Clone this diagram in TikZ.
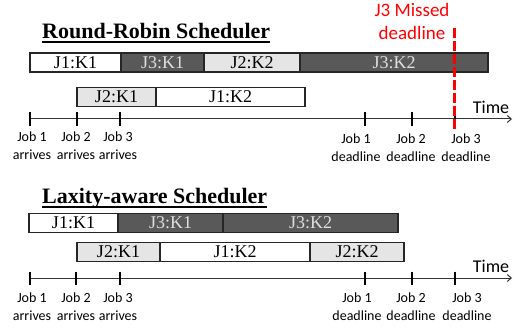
\documentclass[tikz,border=0pt]{standalone}
\usepackage{fontspec}
\setmainfont{Liberation Serif}
\newfontfamily\labelfont{Carlito}
\usetikzlibrary{arrows.meta}

\begin{document}
\begin{tikzpicture}[x=1pt, y=-1pt, >={Straight Barb[length=4pt,width=7pt]},
	slot/.style={draw=black!85, line width=1.2pt, minimum height=19pt, inner sep=0pt, outer sep=0pt, anchor=west, font=\fontsize{18}{18}\selectfont},
	lite/.style={slot, fill=gray!20},
	blank/.style={slot, fill=white},
	dark/.style={slot, fill=black!65, text=gray!25},
	axis/.style={->, black!80, line width=1pt},
	tick/.style={line width=1.6pt},
	evt/.style={font=\labelfont\fontsize{14}{18}\selectfont, align=center, anchor=north, inner sep=0pt},
	title/.style={font=\bfseries\fontsize{22}{24}\selectfont, anchor=base west, inner sep=0pt}]
	\useasboundingbox (0,0) rectangle (513,328);

	% Round-Robin
	\node[title] (rr-title) at (42,38.3) {Round-Robin Scheduler};
	\draw[line width=1.6pt] ([yshift=-3.8pt]rr-title.base west) -- ([yshift=-3.8pt]rr-title.base east);
	\node[blank, minimum width=91pt] (rr-a1) at (30,62.5) {J1:K1};
	\node[dark, minimum width=83pt] (rr-a2) at (rr-a1.east) {J3:K1};
	\node[lite, minimum width=96pt] (rr-a3) at (rr-a2.east) {J2:K2};
	\node[dark, minimum width=188pt] (rr-a4) at (rr-a3.east) {J3:K2};
	\node[lite, minimum width=79pt] (rr-b1) at (77,97) {J2:K1};
	\node[blank, minimum width=149pt] (rr-b2) at (rr-b1.east) {J1:K2};
	\coordinate (rr-t0) at (30,119);
	\coordinate (rr-t1) at (512,119);
	\draw[axis] (rr-t0) -- (rr-t1);
	\foreach \x in {30,77,120,365,412,455}
		\draw[tick] (\x,112.5) -- (\x,126);
	\node[evt, font=\labelfont\fontsize{18}{18}\selectfont, anchor=center] (rr-time) at (491,107) {Time};
	\foreach \x/\n in {32/1,76/2,118/3}
		\node[evt] (rr-arr\n) at (\x,132) {Job \n\\arrives};
	\foreach \x/\n in {356/1,411/2,466/3}
		\node[evt] (rr-dl\n) at (\x,134) {Job \n\\deadline};
	\coordinate (miss-top) at (454,28);
	\coordinate (miss-bot) at (454,132);
	\draw[red, line width=3pt, dash pattern=on 10pt off 3pt] (miss-top) -- (miss-bot);
	\node[red, font=\labelfont\fontsize{19}{23}\selectfont, align=center] (miss) at (412,21.5) {J3 Missed\\deadline};

	% Laxity-aware
	\node[title] (la-title) at (42,203.3) {Laxity-aware Scheduler};
	\draw[line width=1.6pt] ([yshift=-3.8pt]la-title.base west) -- ([yshift=-3.8pt]la-title.base east);
	\node[blank, minimum width=89pt] (la-a1) at (29,223) {J1:K1};
	\node[dark, minimum width=105pt] (la-a2) at (la-a1.east) {J3:K1};
	\node[dark, minimum width=175pt] (la-a3) at (la-a2.east) {J3:K2};
	\node[lite, minimum width=83pt] (la-b1) at (77,252) {J2:K1};
	\node[blank, minimum width=150pt] (la-b2) at (la-b1.east) {J1:K2};
	\node[lite, minimum width=94pt] (la-b3) at (la-b2.east) {J2:K2};
	\coordinate (la-t0) at (30,278);
	\coordinate (la-t1) at (512,278);
	\draw[axis] (la-t0) -- (la-t1);
	\foreach \x in {30,76,120,365,412,455}
		\draw[tick] (\x,271.5) -- (\x,285);
	\node[evt, font=\labelfont\fontsize{18}{18}\selectfont, anchor=center] (la-time) at (491,266.7) {Time};
	\foreach \x/\n in {32/1,76/2,118/3}
		\node[evt] (la-arr\n) at (\x,293) {Job \n\\arrives};
	\foreach \x/\n in {357/1,411/2,467/3}
		\node[evt] (la-dl\n) at (\x,293) {Job \n\\deadline};
\end{tikzpicture}
\end{document}
